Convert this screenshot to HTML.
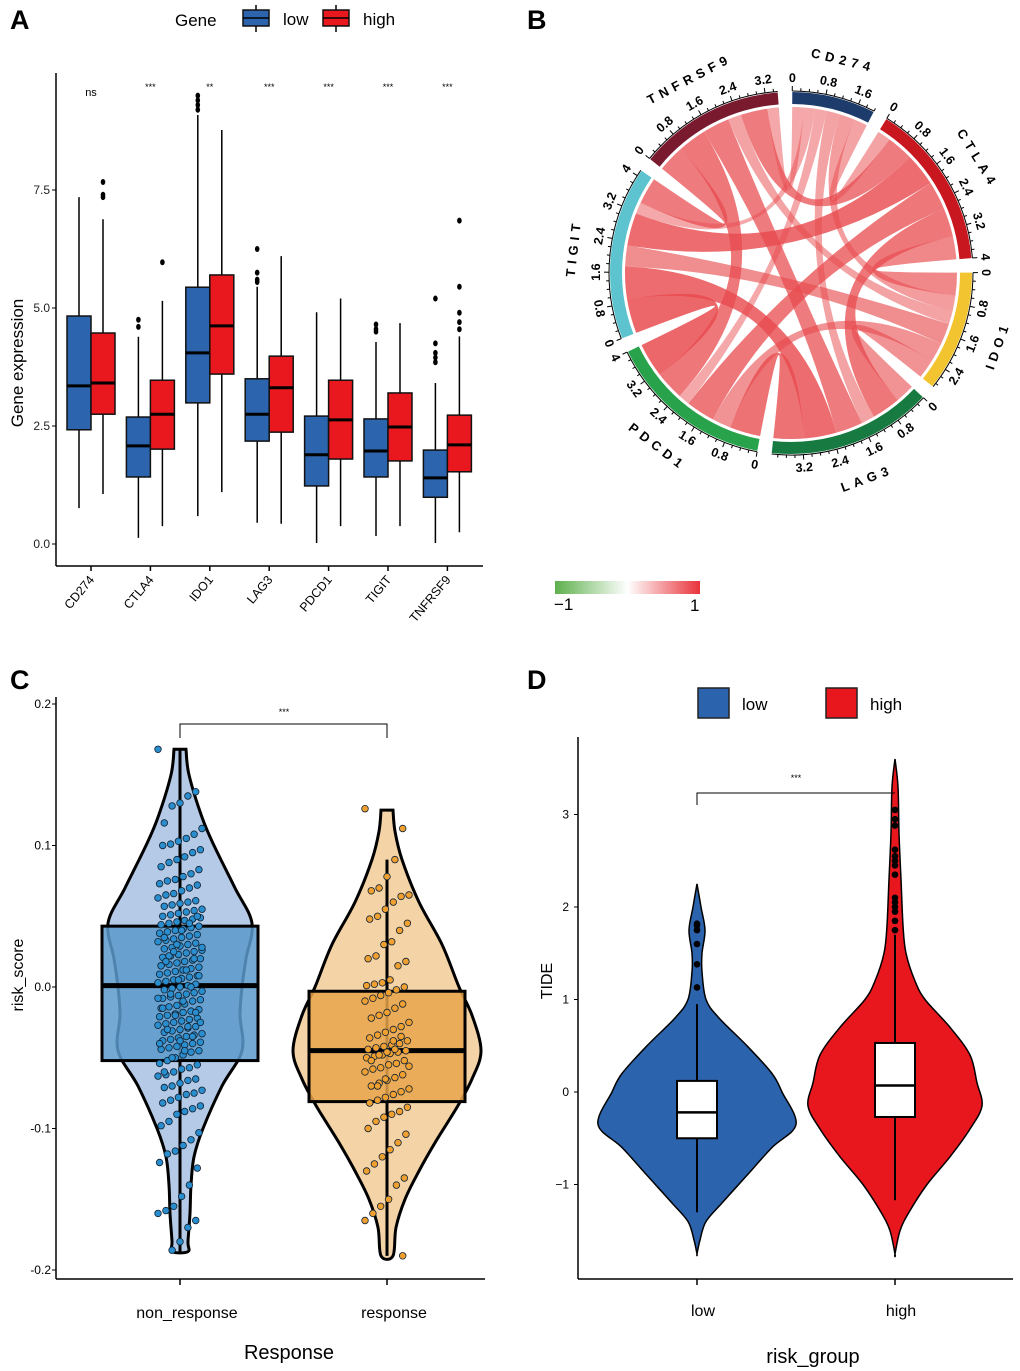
<!DOCTYPE html>
<html><head><meta charset="utf-8"><style>
html,body{margin:0;padding:0;background:#fff}
svg{display:block;font-family:"Liberation Sans",Arial,sans-serif}
</style></head><body>
<svg id="fig" width="1020" height="1371" viewBox="0 0 1020 1371" xmlns="http://www.w3.org/2000/svg">
<rect width="1020" height="1371" fill="#fff"/>
<text x="10" y="29" font-size="27" font-weight="bold">A</text>
<text x="527" y="29" font-size="27" font-weight="bold">B</text>
<text x="10" y="689" font-size="27" font-weight="bold">C</text>
<text x="527" y="689" font-size="27" font-weight="bold">D</text>
<g id="pa"></g>
<g id="pb"></g>
<g id="pc"></g>
<g id="pd"></g>
</svg>
<script>
// ---------- Panel A data ----------
const aGenes = ["CD274","CTLA4","IDO1","LAG3","PDCD1","TIGIT","TNFRSF9"];
const aSig = ["ns","***","**","***","***","***","***"];
const lowQ1 = [2.42,1.42,2.99,2.18,1.23,1.42,0.99];
const lowMed = [3.35,2.08,4.05,2.75,1.89,1.97,1.40];
const lowQ3 = [4.83,2.69,5.44,3.50,2.71,2.65,1.99];
const lowLo = [0.76,0.13,0.59,0.45,0.02,0.17,0.02];
const lowHi = [7.35,4.39,9.09,5.45,4.91,4.28,3.41];
const lowOut = [[],[4.6,4.75],[9.2,9.3,9.4,9.5],[5.55,5.6,5.75,6.25],[],[4.5,4.55,4.65],[3.85,3.95,4.05,4.25,5.2]];
const highQ1 = [2.75,2.01,3.60,2.37,1.80,1.76,1.53];
const highMed = [3.41,2.75,4.62,3.31,2.63,2.48,2.10];
const highQ3 = [4.47,3.47,5.70,3.98,3.47,3.20,2.73];
const highLo = [1.06,0.38,1.10,0.43,0.38,0.38,0.25];
const highHi = [6.88,5.15,8.77,6.10,5.20,4.68,4.40];
const highOut = [[7.35,7.4,7.67],[5.97],[],[],[],[],[4.55,4.7,4.9,5.45,6.85]];
const aTicks = [0,2.5,5,7.5];
const aTickLabels = ["0.0","2.5","5.0","7.5"];

// ---------- Panel B data ----------
const bGenes = ["CD274","CTLA4","IDO1","LAG3","PDCD1","TIGIT","TNFRSF9"];
const bColors = ["#1d3b6b","#c8171f","#f2c430","#177b41","#28a34b","#5cc3cf","#791a2f"];
const bPairs = [
 [0,1,0.35],[0,2,0.40],[0,3,0.35],[0,4,0.30],[0,5,0.30],[0,6,0.30],
 [1,2,0.60],[1,3,0.75],[1,4,0.75],[1,5,0.85],[1,6,0.70],
 [2,3,0.50],[2,4,0.50],[2,5,0.55],[2,6,0.35],
 [3,4,0.80],[3,5,0.85],[3,6,0.70],
 [4,5,0.90],[4,6,0.75],
 [5,6,0.70]];

// ---------- Panel C data ----------
const cCats = ["non_response","response"];
const cTicks = [-0.2,-0.1,0,0.1,0.2];
const cTickLabels = ["-0.2","-0.1","0.0","0.1","0.2"];
const cBoxQ1 = [-0.052,-0.081], cBoxMed = [0.001,-0.045], cBoxQ3 = [0.043,-0.003];
const cWhLo = [-0.187,-0.19], cWhHi = [0.168,0.09];
const cViolNonVals = [0.168,0.15,0.12,0.1,0.07,0.045,0.02,0,-0.02,-0.045,-0.07,-0.1,-0.12,-0.14,-0.16,-0.18,-0.187];
const cViolNonHw = [6,9,22,34,55,72,66,62,60,62,42,23,14,11,10,8,8];
const cViolRespVals = [0.125,0.11,0.09,0.06,0.03,0.0,-0.02,-0.045,-0.065,-0.085,-0.11,-0.13,-0.15,-0.17,-0.19];
const cViolRespHw = [6,8,15,32,55,72,85,94,85,70,48,32,18,9,6];
const cPtsNon = [168,138,135,130,128,116,112,108,105,103,101,100,97,95,92,90,88,85,83,80,78,76,75,73,72,70,68,66,65,63,61,60,59,58,57,55,54,53,52,51,50,49,48,47,46,45,44,43,42,41,40,39,38,37,36,35,34,33,32,31,30,29,28,27,26,25,24,23,22,21,20,19,18,17,16,15,14,13,12,11,10,9,8,7,6,5,4,3,2,1,0,-1,-2,-3,-4,-5,-6,-7,-8,-9,-10,-12,-13,-14,-15,-16,-17,-18,-19,-20,-21,-22,-23,-24,-25,-26,-27,-28,-29,-30,-31,-32,-33,-34,-35,-36,-37,-38,-39,-40,-41,-42,-43,-44,-45,-46,-48,-50,-52,-54,-55,-57,-58,-60,-62,-63,-65,-66,-68,-70,-71,-73,-75,-76,-78,-80,-82,-84,-86,-88,-90,-95,-98,-103,-108,-112,-116,-118,-124,-128,-140,-148,-155,-158,-160,-165,-170,-180,-186,35,28,20,12,5,-5,-15,-25,-35,-45,30,22,15,8,0,-10,-20,-30,-40,50,45,40,25,18,-8,-18,-28,-38,-50,-60];
const cPtsResp = [126,112,90,78,70,68,65,64,60,55,50,48,45,40,32,30,22,20,18,15,5,3,2,1,0,-2,-4,-6,-8,-10,-12,-15,-18,-20,-22,-25,-28,-30,-32,-34,-36,-38,-40,-41,-42,-43,-44,-45,-46,-47,-48,-49,-50,-52,-54,-55,-57,-58,-60,-62,-64,-66,-68,-70,-72,-74,-76,-78,-80,-82,-85,-88,-90,-92,-95,-100,-104,-110,-115,-120,-125,-130,-135,-140,-150,-155,-160,-165,-190,-44,-46,-48,-52,-56,-35,-38,-65,-70];

// ---------- Panel D data ----------
const dCats = ["low","high"];
const dTicks = [-1,0,1,2,3];
const dTickLabels = ["−1","0","1","2","3"];
const dBoxQ1 = [-0.5,-0.27], dBoxMed = [-0.22,0.07], dBoxQ3 = [0.12,0.53];
const dWhLo = [-1.3,-1.17], dWhHi = [0.95,1.7];
const dOutLow = [1.13,1.38,1.6,1.75,1.8,1.82];
const dOutHigh = [1.75,1.85,1.95,2.0,2.05,2.1,2.35,2.45,2.5,2.55,2.62,2.88,2.95,3.05];
const dViolLowVals = [2.25,2.0,1.75,1.5,1.3,1.0,0.8,0.5,0.2,0,-0.35,-0.6,-0.9,-1.2,-1.4,-1.6,-1.75];
const dViolLowHw = [0,4,8,5,5,9,22,50,75,85,99,75,50,25,9,3,0];
const dViolHighVals = [3.6,3.3,2.8,2.3,1.8,1.5,1.2,1.0,0.7,0.4,0.1,-0.15,-0.4,-0.7,-1.0,-1.3,-1.5,-1.75];
const dViolHighHw = [0,3,4,6,8,11,20,30,55,75,82,87,75,55,32,14,5,0];

const NS = "http://www.w3.org/2000/svg";
function mk(tag, parent, attrs){ const e=document.createElementNS(NS,tag); for(const k in attrs) e.setAttribute(k,attrs[k]); parent.appendChild(e); return e; }
function txt(parent, x, y, s, size, extra){ const t=mk("text",parent,Object.assign({x:x,y:y,"font-size":size},extra||{})); t.textContent=s; return t; }
function crPath(pts){
  const n=pts.length; let d="M"+pts[0][0].toFixed(1)+","+pts[0][1].toFixed(1);
  for(let i=0;i<n-1;i++){ const p0=pts[Math.max(i-1,0)],p1=pts[i],p2=pts[i+1],p3=pts[Math.min(i+2,n-1)];
    const c1=[p1[0]+(p2[0]-p0[0])/6,p1[1]+(p2[1]-p0[1])/6], c2=[p2[0]-(p3[0]-p1[0])/6,p2[1]-(p3[1]-p1[1])/6];
    d+="C"+c1[0].toFixed(1)+","+c1[1].toFixed(1)+" "+c2[0].toFixed(1)+","+c2[1].toFixed(1)+" "+p2[0].toFixed(1)+","+p2[1].toFixed(1); }
  return d+"Z"; }
function violinPath(cx, vals, hw, yf){
  const r=vals.map((v,i)=>[cx+hw[i],yf(v)]); const l=vals.map((v,i)=>[cx-hw[i],yf(v)]).reverse();
  return crPath(r.concat(l)); }

// ================= Panel A =================
(function(){
  const g=document.getElementById("pa");
  const yA=v=>544-47.2*v, xA=i=>91+i*59.4;
  let e;
  e=mk("line",g,{x1:56,y1:73,x2:56,y2:566,stroke:"#000","stroke-width":1.5});
   
  e=mk("line",g,{x1:56,y1:566,x2:483,y2:566,stroke:"#000","stroke-width":1.5});
   
  aTicks.forEach((t,i)=>{ mk("line",g,{x1:52,x2:56,y1:yA(t),y2:yA(t),stroke:"#000"});
    e=txt(g,50,yA(t)+4,aTickLabels[i],12,{"text-anchor":"end",fill:"#222"});
      });
  e=txt(g,0,0,"Gene expression",17,{"text-anchor":"middle",transform:"translate(23,363) rotate(-90)"});
   
  function box(cx,q1,med,q3,lo,hi,outs,fill,name){
    const gg=mk("g",g,{});  
    mk("line",gg,{x1:cx,x2:cx,y1:yA(hi),y2:yA(lo),stroke:"#000","stroke-width":1.5});
    mk("rect",gg,{x:cx-12,y:yA(q3),width:24,height:yA(q1)-yA(q3),fill:fill,stroke:"#111","stroke-width":1.5});
    mk("line",gg,{x1:cx-12,x2:cx+12,y1:yA(med),y2:yA(med),stroke:"#000","stroke-width":3});
    outs.forEach(o=>mk("ellipse",gg,{cx:cx,cy:yA(o),rx:2.3,ry:3,fill:"#000"})); }
  aGenes.forEach((gname,i)=>{
    const cx=xA(i);
    box(cx-12,lowQ1[i],lowMed[i],lowQ3[i],lowLo[i],lowHi[i],lowOut[i],"#2d64ae","box-low-"+gname.toLowerCase());
    box(cx+12,highQ1[i],highMed[i],highQ3[i],highLo[i],highHi[i],highOut[i],"#e8181e","box-high-"+gname.toLowerCase());
    mk("line",g,{x1:cx,x2:cx,y1:566,y2:571,stroke:"#000","stroke-width":1.5});
    e=txt(g,0,0,gname,12.5,{"text-anchor":"end",transform:"translate("+(cx+4)+",580) rotate(-50)"});
     
    e=txt(g,cx,aSig[i]=="ns"?96:90,aSig[i],aSig[i]=="ns"?11:9,{"text-anchor":"middle"});
     
  });
  const lg=mk("g",g,{});  
  txt(lg,175,26,"Gene",17,{});
  [["#2d64ae","low",243],["#e8181e","high",323]].forEach(([c,l,x])=>{
    const it=mk("g",lg,{});  
    mk("line",it,{x1:x+13,x2:x+13,y1:5,y2:32,stroke:"#000","stroke-width":1.5});
    mk("rect",it,{x:x,y:10,width:26,height:16,fill:c,stroke:"#111","stroke-width":1.5});
    mk("line",it,{x1:x,x2:x+26,y1:18,y2:18,stroke:"#000","stroke-width":1.5});
    txt(it,x+40,25,l,17,{}); });
})();

// ================= Panel B =================
(function(){
  const g=document.getElementById("pb");
  const cx=791, cy=273, Rt=181, Rin=169, Rc=166, gap=4.6, start=0.4;
  const tot=bGenes.map((_,i)=>bPairs.reduce((s,p)=>s+((p[0]==i||p[1]==i)?p[2]:0),0));
  const sum=tot.reduce((a,b)=>a+b,0);
  const dpu=(360-gap*bGenes.length)/sum;
  const secStart=[]; let a=start;
  tot.forEach((t,i)=>{secStart.push(a); a+=t*dpu+gap;});
  const P=(r,th)=>{const rad=th*Math.PI/180; return [cx+r*Math.sin(rad), cy-r*Math.cos(rad)];};
  const f=p=>p[0].toFixed(1)+","+p[1].toFixed(1);
  const pos={};
  bGenes.forEach((_,i)=>{ let off=0;
    const partners=bPairs.filter(p=>p[0]==i||p[1]==i).map(p=>({j:p[0]==i?p[1]:p[0],v:p[2]}));
    partners.sort((u,w)=>((w.j-i+7)%7)-((u.j-i+7)%7));
    partners.forEach(pp=>{ pos[i+"-"+pp.j]=[secStart[i]+off*dpu, secStart[i]+(off+pp.v)*dpu]; off+=pp.v; }); });
  const cg=mk("g",g,{});  
  bPairs.forEach(p=>{
    const A=pos[p[0]+"-"+p[1]], B=pos[p[1]+"-"+p[0]];
    const d="M"+f(P(Rc,A[0]))+"A"+Rc+","+Rc+" 0 0 1 "+f(P(Rc,A[1]))+"Q"+cx+","+cy+" "+f(P(Rc,B[0]))+"A"+Rc+","+Rc+" 0 0 1 "+f(P(Rc,B[1]))+"Q"+cx+","+cy+" "+f(P(Rc,A[0]))+"Z";
    const op=(0.3+0.6*p[2]).toFixed(2);
    const e=mk("path",cg,{d:d,fill:"#e84a4d","fill-opacity":op,stroke:"none"});
    
     });
  bGenes.forEach((gname,i)=>{
    const s=secStart[i], en=s+tot[i]*dpu;
    const sg=mk("g",g,{});  
    const lg=(en-s)>180?1:0;
    mk("path",sg,{d:"M"+f(P(Rt,s))+"A"+Rt+","+Rt+" 0 "+lg+" 1 "+f(P(Rt,en))+"L"+f(P(Rin,en))+"A"+Rin+","+Rin+" 0 "+lg+" 0 "+f(P(Rin,s))+"Z",fill:bColors[i]});
    mk("path",sg,{d:"M"+f(P(Rt+1,s))+"A"+(Rt+1)+","+(Rt+1)+" 0 "+lg+" 1 "+f(P(Rt+1,en)),fill:"none",stroke:"#000","stroke-width":1});
    for(let k=0;k<=Math.floor(tot[i]/0.2+1e-6);k++){
      const th=s+k*0.2*dpu, major=(k%4==0);
      const p1=P(Rt+1,th), p2=P(Rt+(major?6:4),th);
      mk("line",sg,{x1:p1[0],y1:p1[1],x2:p2[0],y2:p2[1],stroke:"#000","stroke-width":1});
      if(major){ const lp=P(Rt+14,th); const bottom=(th>90&&th<270);
        const lab=(k*0.2).toFixed(1).replace(/\.0$/,"");
        const t=txt(sg,lp[0],lp[1],lab,12.5,{"text-anchor":"middle","dominant-baseline":"central","font-weight":"bold",transform:"rotate("+(bottom?th-180:th).toFixed(1)+" "+lp[0].toFixed(1)+" "+lp[1].toFixed(1)+")"});
          } }
    const mid=(s+en)/2, np=P(Rt+38,mid), bottom=(mid>90&&mid<270);
    const t=txt(sg,np[0],np[1],gname,13,{"text-anchor":"middle","dominant-baseline":"central","font-weight":"bold","letter-spacing":"5",transform:"rotate("+(bottom?mid-180:mid).toFixed(1)+" "+np[0].toFixed(1)+" "+np[1].toFixed(1)+")"});
     
  });
  const defs=mk("defs",g,{}); const lgd=mk("linearGradient",defs,{id:"cbg",x1:0,x2:1,y1:0,y2:0});
  mk("stop",lgd,{offset:"0","stop-color":"#5db04c"}); mk("stop",lgd,{offset:"0.5","stop-color":"#ffffff"}); mk("stop",lgd,{offset:"1","stop-color":"#e8333a"});
  const cb=mk("g",g,{});  
  mk("rect",cb,{x:555,y:581,width:145,height:13,fill:"url(#cbg)"});
  txt(cb,554,610,"−1",17,{}); txt(cb,690,611,"1",17,{});
})();

// ================= Panel C =================
(function(){
  const g=document.getElementById("pc");
  const yC=v=>987-1415*v, xC=[180,387];
  let e;
  e=mk("line",g,{x1:56,y1:697,x2:56,y2:1279,stroke:"#000","stroke-width":1.5});  
  e=mk("line",g,{x1:56,y1:1279,x2:485,y2:1279,stroke:"#000","stroke-width":1.5});  
  cTicks.forEach((t,i)=>{ mk("line",g,{x1:52,x2:56,y1:yC(t),y2:yC(t),stroke:"#000"});
    e=txt(g,51,yC(t)+4,cTickLabels[i],12,{"text-anchor":"end"});   });
  const fills=[["#b4cae6","#5b9aca","#2a8dcd"],["#f4d4a6","#e8a54b","#f0a030"]];
  const viol=[[cViolNonVals,cViolNonHw],[cViolRespVals,cViolRespHw]];
  const pts=[cPtsNon,cPtsResp];
  cCats.forEach((c,i)=>{
    const gg=mk("g",g,{});  
    const vp=mk("path",gg,{d:violinPath(xC[i],viol[i][0],viol[i][1],yC),fill:fills[i][0],stroke:"#000","stroke-width":3});
     
    mk("line",gg,{x1:xC[i],x2:xC[i],y1:yC(cWhHi[i]),y2:yC(cWhLo[i]),stroke:"#000","stroke-width":3});
    const bx=mk("rect",gg,{x:xC[i]-78,y:yC(cBoxQ3[i]),width:156,height:yC(cBoxQ1[i])-yC(cBoxQ3[i]),fill:fills[i][1],"fill-opacity":0.85,stroke:"#000","stroke-width":3});
     
    mk("line",gg,{x1:xC[i]-78,x2:xC[i]+78,y1:yC(cBoxMed[i]),y2:yC(cBoxMed[i]),stroke:"#000","stroke-width":5});
    pts[i].forEach((v,k)=>{ const jx=(((k*53)%29)-14)/14*22;
      mk("circle",gg,{cx:(xC[i]+jx).toFixed(1),cy:yC(v/1000).toFixed(1),r:3.3,fill:fills[i][2],stroke:"#123","stroke-width":0.8}); });
    mk("line",g,{x1:xC[i],x2:xC[i],y1:1279,y2:1285,stroke:"#000","stroke-width":1.5});
    e=txt(g,xC[i]+7,1318,c,16,{"text-anchor":"middle"});  
  });
  e=mk("path",g,{d:"M180,738V724H387V738",fill:"none",stroke:"#000","stroke-width":1});  
  txt(g,284,715,"***",9,{"text-anchor":"middle"});
  e=txt(g,289,1359,"Response",20,{"text-anchor":"middle"});  
  e=txt(g,0,0,"risk_score",16,{"text-anchor":"middle",transform:"translate(23,975) rotate(-90)"});  
})();

// ================= Panel D =================
(function(){
  const g=document.getElementById("pd");
  const yD=v=>1092-92.5*v, xD=[697,895];
  let e;
  e=mk("line",g,{x1:578,y1:737,x2:578,y2:1279,stroke:"#000","stroke-width":1.5});  
  e=mk("line",g,{x1:578,y1:1279,x2:1013,y2:1279,stroke:"#000","stroke-width":1.5});  
  dTicks.forEach((t,i)=>{ mk("line",g,{x1:574,x2:578,y1:yD(t),y2:yD(t),stroke:"#000"});
    e=txt(g,569,yD(t)+4,dTickLabels[i],12,{"text-anchor":"end"});   });
  const fills=["#2c63ad","#e8171e"];
  const viol=[[dViolLowVals,dViolLowHw],[dViolHighVals,dViolHighHw]];
  const outs=[dOutLow,dOutHigh];
  dCats.forEach((c,i)=>{
    const gg=mk("g",g,{});  
    const vp=mk("path",gg,{d:violinPath(xD[i],viol[i][0],viol[i][1],yD),fill:fills[i],stroke:"#000","stroke-width":1.5});
     
    mk("line",gg,{x1:xD[i],x2:xD[i],y1:yD(dWhHi[i]),y2:yD(dWhLo[i]),stroke:"#000","stroke-width":2});
    const bx=mk("rect",gg,{x:xD[i]-20,y:yD(dBoxQ3[i]),width:40,height:yD(dBoxQ1[i])-yD(dBoxQ3[i]),fill:"#fff",stroke:"#000","stroke-width":2});
     
    mk("line",gg,{x1:xD[i]-20,x2:xD[i]+20,y1:yD(dBoxMed[i]),y2:yD(dBoxMed[i]),stroke:"#000","stroke-width":2.5});
    outs[i].forEach(v=>mk("circle",gg,{cx:xD[i],cy:yD(v),r:3.3,fill:"#000"}));
    mk("line",g,{x1:xD[i],x2:xD[i],y1:1279,y2:1285,stroke:"#000","stroke-width":1.5});
    e=txt(g,xD[i]+6,1316,c,16,{"text-anchor":"middle"});  
  });
  e=mk("path",g,{d:"M697,805V793H895",fill:"none",stroke:"#000","stroke-width":1});  
  txt(g,796,781,"***",9,{"text-anchor":"middle"});
  const lg=mk("g",g,{});  
  [["#2c63ad","low",698],["#e8171e","high",826]].forEach(([c,l,x])=>{
    const it=mk("g",lg,{});  
    mk("rect",it,{x:x,y:688,width:31,height:30,fill:c,stroke:"#222","stroke-width":1.5});
    txt(it,x+44,710,l,17,{}); });
  e=txt(g,813,1363,"risk_group",20,{"text-anchor":"middle"});  
  e=txt(g,0,0,"TIDE",16,{"text-anchor":"middle",transform:"translate(552,981) rotate(-90)"});  
})();
</script>
</body></html>
